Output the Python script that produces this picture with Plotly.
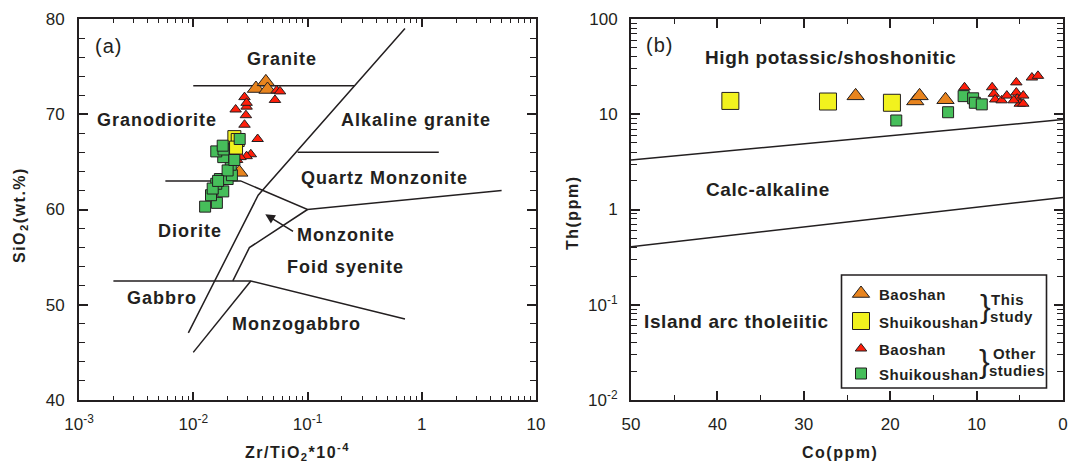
import numpy as np
import plotly.graph_objects as go

W, H = 1068, 466
INK = "#231f20"
ORANGE = "#e8841e"
YELLOW = "#f2f21e"
RED = "#ff1e0a"
GREEN = "#46be5a"
FAMILY = "Liberation Sans, Arial, sans-serif"

# ---------------- (a) SiO2 vs Zr/TiO2*1e-4 ----------------
a_bs_this_zr = [0.0354, 0.0432, 0.0447, 0.0253]
a_bs_this_si = [72.7, 73.4, 72.6, 63.9]
a_sk_this_zr = [0.0229, 0.0245, 0.0237]
a_sk_this_si = [67.6, 67.3, 66.5]
a_bs_other_zr = [0.0235, 0.0281, 0.0293, 0.0289, 0.0281, 0.0537, 0.0575, 0.0519,
                 0.0366, 0.0319, 0.0293, 0.0259, 0.0242, 0.0293]
a_bs_other_si = [70.5, 71.8, 70.8, 69.9, 68.9, 72.5, 72.4, 71.5,
                 67.4, 65.8, 65.6, 65.5, 65.2, 71.2]
a_sk_other_zr = [0.0127, 0.0161, 0.0143, 0.0183, 0.0159, 0.0148, 0.0171, 0.0200, 0.0218,
                 0.0213, 0.0200, 0.0183, 0.0159, 0.0184, 0.0181, 0.0255, 0.0229, 0.0165]
a_sk_other_si = [60.3, 60.7, 61.5, 61.9, 62.7, 62.2, 63.2, 63.2, 63.6,
                 64.7, 64.1, 65.5, 66.1, 66.3, 66.7, 67.4, 65.2, 63.0]

# field boundaries (Zr/TiO2*1e-4, SiO2)
granite_zr, granite_si = [0.01, 0.2565], [73, 73]
qmonz_zr, qmonz_si = [0.082, 1.41], [66, 66]
diorite_zr, diorite_si = [0.0057, 0.026, 0.1, 5.0], [63, 63, 60, 62]
gabbro_zr, gabbro_si = [0.002, 0.0319, 0.713], [52.5, 52.5, 48.5]
alk_zr, alk_si = [0.00906, 0.037, 0.713], [47.05, 61.5, 79]
foid_low_zr, foid_low_si = [0.01, 0.0319], [45, 52.5]
foid_up_zr, foid_up_si = [0.0222, 0.031, 0.1], [52.5, 56, 60]

a_xticks = [0.001, 0.01, 0.1, 1, 10]
a_xticktext = ["10<sup>-3</sup>", "10<sup>-2</sup>", "10<sup>-1</sup>", "1", "10"]
a_yticks = [40, 50, 60, 70, 80]

# ---------------- (b) Th vs Co ----------------
b_bs_this_co = [24.0, 17.1, 16.6, 13.6]
b_bs_this_th = [15.6, 13.8, 15.6, 14.2]
b_sk_this_co = [38.5, 27.2, 19.8]
b_sk_this_th = [13.8, 13.6, 13.2]
b_bs_other_co = [11.4, 8.2, 8.0, 7.85, 7.1, 6.5, 5.4, 5.4, 5.3, 4.6, 5.0, 4.6, 3.6, 2.9, 5.7]
b_bs_other_th = [19.2, 19.2, 16.4, 14.3, 14.0, 15.7, 21.6, 16.9, 14.6, 15.7, 12.9, 12.9, 24.3, 25.3, 14.0]
b_sk_other_co = [19.3, 13.3, 11.5, 10.4, 10.2, 9.4]
b_sk_other_th = [8.6, 10.5, 15.5, 14.7, 13.2, 12.7]

# series boundaries (Co, Th)
shosh_co, shosh_th = [50, 0], [3.31, 8.8]
calc_co, calc_th = [50, 0], [0.407, 1.34]

b_xticks = [50, 40, 30, 20, 10, 0]
b_yticks = [0.01, 0.1, 1, 10, 100]
b_yticktext = ["10<sup>-2</sup>", "10<sup>-1</sup>", "1", "10", "100"]

# ---------------- layout geometry (pixels) ----------------
A_BOX = (79, 536, 19, 400)    # left, right, top, bottom
B_BOX = (631, 1063, 19, 400)


def xdom(box):
    return [box[0] / W, box[1] / W]


def ydom(box):
    return [1 - box[3] / H, 1 - box[2] / H]


def spaced(text, px):
    return f'<span style="letter-spacing:{px}px">{text}</span>'


def log_minor(lo, hi):
    return [k * 10.0 ** e for e in range(lo, hi) for k in range(2, 10)]


fig = go.Figure()


def pts(x, y, axes, symbol, size, color):
    fig.add_trace(go.Scatter(
        x=x, y=y, mode="markers", xaxis=axes[0], yaxis=axes[1], showlegend=False,
        marker=dict(symbol=symbol, size=size, color=color, line=dict(color=INK, width=1)),
        cliponaxis=False))


def boundary(x, y, axes):
    fig.add_trace(go.Scatter(
        x=x, y=y, mode="lines", xaxis=axes[0], yaxis=axes[1], showlegend=False,
        line=dict(color=INK, width=1.5), hoverinfo="skip"))


A = ("x", "y")
B = ("x2", "y2")
P = ("x3", "y3")

for bx, by in [(granite_zr, granite_si), (qmonz_zr, qmonz_si), (diorite_zr, diorite_si),
               (gabbro_zr, gabbro_si), (alk_zr, alk_si), (foid_low_zr, foid_low_si),
               (foid_up_zr, foid_up_si)]:
    boundary(bx, by, A)
boundary(shosh_co, shosh_th, B)
boundary(calc_co, calc_th, B)

pts(a_bs_this_zr, a_bs_this_si, A, "triangle-up", 15, ORANGE)
pts(a_bs_other_zr, a_bs_other_si, A, "triangle-up", 10, RED)
pts(a_sk_this_zr, a_sk_this_si, A, "square", 13, YELLOW)
pts(a_sk_other_zr, a_sk_other_si, A, "square", 11, GREEN)

pts(b_bs_this_co, b_bs_this_th, B, "triangle-up", 15, ORANGE)
pts(b_sk_this_co, b_sk_this_th, B, "square", 17, YELLOW)
pts(b_sk_other_co, b_sk_other_th, B, "square", 11, GREEN)
pts(b_bs_other_co, b_bs_other_th, B, "triangle-up", 10, RED)

# legend keys, laid out in page pixels on a hidden overlay axis
LEG_BOX = (841.5, 1046.5, 275, 388)
LEG_KEY_X, LEG_TEXT_X = 861, 877
leg_rows = [
    ("Baoshan", "triangle-up", 15, ORANGE, 293.5),
    ("Shuikoushan", "square", 17, YELLOW, 321),
    ("Baoshan", "triangle-up", 10, RED, 348.5),
    ("Shuikoushan", "square", 11, GREEN, 373.5),
]
for name, sym, sz, col, ry in leg_rows:
    pts([LEG_KEY_X], [ry], P, sym, sz, col)

tick_font = dict(family=FAMILY, size=17, color=INK)
axis_common = dict(showline=True, linecolor=INK, linewidth=2, mirror="ticks",
                   ticks="inside", tickcolor=INK, tickwidth=1.5, showgrid=False,
                   zeroline=False, tickfont=tick_font, automargin=False,
                   tickmode="array")

fig.update_layout(
    template="none",
    width=W, height=H, margin=dict(l=0, r=0, t=0, b=0, autoexpand=False),
    font=dict(family=FAMILY, color=INK),
    paper_bgcolor="white", plot_bgcolor="rgba(0,0,0,0)", showlegend=False,
    xaxis=dict(domain=xdom(A_BOX), type="log", range=[-3, 1], anchor="y",
               tickvals=a_xticks, ticktext=a_xticktext, ticklen=8,
               ticklabelstandoff=8,
               minor=dict(tickmode="array", tickvals=log_minor(-3, 1), ticks="inside",
                          ticklen=4, tickcolor=INK, tickwidth=1.2, showgrid=False),
               **axis_common),
    yaxis=dict(domain=ydom(A_BOX), range=[40, 80], anchor="x",
               tickvals=a_yticks, ticklen=9, ticklabelstandoff=9,
               minor=dict(dtick=2, ticks="inside", ticklen=6, tickcolor=INK,
                          tickwidth=1.2, showgrid=False),
               **axis_common),
    xaxis2=dict(domain=xdom(B_BOX), range=[50, 0], anchor="y2",
                tickvals=b_xticks, ticklen=9, ticklabelstandoff=8,
                minor=dict(dtick=5, ticks="inside", ticklen=5, tickcolor=INK,
                           tickwidth=1.2, showgrid=False),
                **axis_common),
    yaxis2=dict(domain=ydom(B_BOX), type="log", range=[-2, 2], anchor="x2",
                tickvals=b_yticks, ticktext=b_yticktext, ticklen=9,
                ticklabelstandoff=8,
                minor=dict(tickmode="array", tickvals=log_minor(-2, 2), ticks="inside",
                           ticklen=6, tickcolor=INK, tickwidth=1.2, showgrid=False),
                **axis_common),
    xaxis3=dict(domain=[0, 1], range=[0, W], anchor="y3", visible=False,
                fixedrange=True, automargin=False),
    yaxis3=dict(domain=[0, 1], range=[H, 0], anchor="x3", visible=False,
                fixedrange=True, automargin=False),
)

# legend frame
fig.add_shape(type="rect", xref="x3", yref="y3", x0=LEG_BOX[0], x1=LEG_BOX[1],
              y0=LEG_BOX[2], y1=LEG_BOX[3], line=dict(color=INK, width=1.6))

ann = []


def label(text, x, y, size, xref, yref, bold=True, track=1.0, xanchor="center", angle=0):
    ann.append(dict(text=spaced(text, track), x=x, y=y,
                    xref=xref, yref=yref, showarrow=False, xanchor=xanchor,
                    yanchor="middle", textangle=angle,
                    font=dict(family=FAMILY, size=size, color=INK,
                              weight="bold" if bold else "normal")))


lg = np.log10
# (a) field names
label("(a)", lg(0.00182), 77.2, 20, "x", "y", bold=False, track=1)
label("Granite", lg(0.0604), 75.8, 18, "x", "y")
label("Granodiorite", lg(0.00481), 69.4, 18, "x", "y")
label("Alkaline granite", lg(0.884), 69.4, 18, "x", "y")
label("Quartz Monzonite", lg(0.47), 63.3, 18, "x", "y")
label("Diorite", lg(0.00944), 57.7, 18, "x", "y")
label("Monzonite", lg(0.216), 57.3, 18, "x", "y")
label("Foid syenite", lg(0.216), 54.0, 18, "x", "y")
label("Gabbro", lg(0.00535), 50.7, 18, "x", "y")
label("Monzogabbro", lg(0.0798), 48.0, 18, "x", "y")

# (b) series names
label("(b)", 46.7, lg(53.3), 20, "x2", "y2", bold=False, track=1)
label("High potassic/shoshonitic", 26.9, 1.598, 19, "x2", "y2", track=0.6)
label("Calc-alkaline", 34.2, 0.212, 19, "x2", "y2", track=0.6)
label("Island arc tholeiitic", 37.75, -1.178, 19, "x2", "y2", track=0.6)

# axis titles
label("SiO<sub>2</sub>(wt.%)", 20, 215, 16, "x3", "y3", track=1.5, angle=-90)
label("Zr/TiO<sub>2</sub>*10<sup>-4</sup>", 297, 452, 16, "x3", "y3", track=1.5)
label("Th(ppm)", 572, 213, 16, "x3", "y3", track=1.5, angle=-90)
label("Co(ppm)", 840, 452, 16, "x3", "y3", track=1.5)

# legend text
for name, sym, sz, col, ry in leg_rows:
    label(name, LEG_TEXT_X, ry + 1, 15, "x3", "y3", track=0.5, xanchor="left")
label("}", 985, 306, 32, "x3", "y3", bold=False, track=0)
label("}", 984, 360.5, 32, "x3", "y3", bold=False, track=0)
label("This", 1007, 299.5, 15, "x3", "y3", track=0.6)
label("study", 1011, 316, 15, "x3", "y3", track=0.6)
label("Other", 1014, 353.5, 15, "x3", "y3", track=0.6)
label("studies", 1017, 370, 15, "x3", "y3", track=0.5)

# arrow pointing into the Monzonite field
ann.append(dict(x=lg(0.0427), y=59.5, ax=lg(0.077), ay=57.6, xref="x", yref="y",
                axref="x", ayref="y", text="", showarrow=True, arrowhead=2,
                arrowsize=1.2, arrowwidth=1.6, arrowcolor=INK))

fig.update_layout(annotations=ann)
fig.write_html("out.html")
